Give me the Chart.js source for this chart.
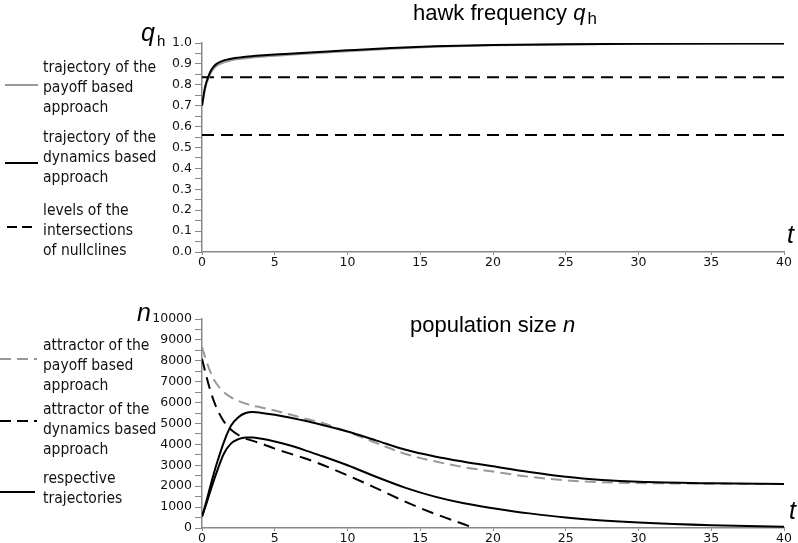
<!DOCTYPE html>
<html>
<head>
<meta charset="utf-8">
<script src="https://cdn.jsdelivr.net/npm/chart.js@4.4.0/dist/chart.umd.min.js"></script>
<style>
  body { margin: 0; background: #fff; width: 798px; height: 543px; overflow: hidden; position: relative; }
  canvas { position: absolute; left: 0; }
  .title { position: absolute; font-family: "Liberation Sans", Arial, sans-serif; font-size: 22px; line-height: 22px; color: #000; white-space: nowrap; }
  .title i, .axlab i { font-style: italic; }
  .title sub { font-style: normal; font-size: 17px; vertical-align: -4px; line-height: 0; margin-left: 2px; }
  .axlab { position: absolute; font-family: "Liberation Sans", Arial, sans-serif; font-size: 25px; line-height: 25px; color: #000; white-space: nowrap; }
  .axlab sub { font-style: normal; font-size: 15px; vertical-align: -5px; line-height: 0; margin-left: 2px; }
  .leg { position: absolute; left: 43px; font-family: "DejaVu Sans", sans-serif; font-size: 15.5px; line-height: 20px; color: #111;
         transform: scaleX(0.9); transform-origin: left top; white-space: nowrap; }
  svg { position: absolute; left: 0; top: 0; }
</style>
</head>
<body>
<canvas id="topChart" width="798" height="276" style="top:0"></canvas>
<canvas id="bottomChart" width="798" height="276" style="top:276px"></canvas>

<div class="title" style="left:413px; top:2px">hawk frequency <i>q</i><sub>h</sub></div>
<div class="title" style="left:410px; top:314px">population size <i>n</i></div>
<div class="axlab" style="left:141px; top:20px"><i>q</i><sub>h</sub></div>
<div class="axlab" style="left:137px; top:300px"><i>n</i></div>
<div class="axlab" style="left:787px; top:222px"><i>t</i></div>
<div class="axlab" style="left:789px; top:498px"><i>t</i></div>

<div class="leg" style="top:57px">trajectory of the<br>payoff based<br>approach</div>
<div class="leg" style="top:127px">trajectory of the<br>dynamics based<br>approach</div>
<div class="leg" style="top:200px">levels of the<br>intersections<br>of nullclines</div>
<div class="leg" style="top:335px">attractor of the<br>payoff based<br>approach</div>
<div class="leg" style="top:399px">attractor of the<br>dynamics based<br>approach</div>
<div class="leg" style="top:468px">respective<br>trajectories</div>

<svg width="60" height="543">
  <line x1="5" y1="85" x2="38" y2="85" stroke="#999" stroke-width="2"/>
  <line x1="5" y1="163" x2="38" y2="163" stroke="#000" stroke-width="2"/>
  <line x1="7" y1="227" x2="34" y2="227" stroke="#000" stroke-width="2" stroke-dasharray="10,5"/>
  <line x1="0" y1="359" x2="37" y2="359" stroke="#999" stroke-width="2" stroke-dasharray="11,6"/>
  <line x1="0" y1="421" x2="37" y2="421" stroke="#000" stroke-width="2" stroke-dasharray="11,6"/>
  <line x1="0" y1="492" x2="35" y2="492" stroke="#000" stroke-width="2"/>
</svg>

<script>
// hawk frequency panel
var timeTop = [0, 0.1, 0.2, 0.3, 0.45, 0.6, 0.8, 1, 1.25, 1.5, 2, 2.5, 3, 4, 5, 6, 8, 10, 13, 16, 20, 25, 30, 40];
var hawkPayoff = [0.700, 0.740, 0.777, 0.804, 0.833, 0.856, 0.877, 0.890, 0.900, 0.908, 0.917, 0.923, 0.927, 0.934, 0.939, 0.944, 0.952, 0.961, 0.973, 0.982, 0.989, 0.993, 0.996, 0.998];
var hawkDynamics = [0.700, 0.745, 0.785, 0.812, 0.842, 0.866, 0.887, 0.900, 0.910, 0.917, 0.925, 0.930, 0.934, 0.940, 0.945, 0.949, 0.957, 0.965, 0.976, 0.984, 0.990, 0.994, 0.996, 0.998];
var nullclineLevels = [0.836, 0.56];

// population size panel
var timeBottom = [0, 0.25, 0.5, 0.75, 1, 1.5, 2, 2.5, 3, 3.5, 4, 5, 6, 7, 8, 10, 12, 14, 16, 18, 20, 22.5, 25, 27.5, 30, 35, 40];
var nPayoffAttractor = [8650, 8100, 7600, 7200, 6900, 6500, 6250, 6080, 5950, 5850, 5780, 5620, 5440, 5250, 5080, 4610, 4060, 3540, 3190, 2910, 2700, 2450, 2280, 2190, 2150, 2120, 2100];
var nUpperTrajectory = [550, 1150, 1800, 2450, 3050, 4100, 4900, 5300, 5500, 5550, 5520, 5420, 5290, 5140, 4980, 4620, 4180, 3740, 3420, 3170, 2950, 2680, 2450, 2300, 2210, 2140, 2110];
var nLowerTrajectory = [550, 1050, 1600, 2150, 2650, 3550, 4050, 4250, 4330, 4330, 4280, 4140, 3960, 3740, 3500, 3000, 2440, 1920, 1500, 1180, 950, 700, 500, 360, 260, 130, 60];
var timeDynAttractor = [0, 0.25, 0.5, 0.75, 1, 1.5, 2, 2.5, 3, 3.5, 4, 5, 6, 7, 8, 10, 12, 14, 16, 18, 18.7];
var nDynamicsAttractor = [8100, 7400, 6750, 6200, 5750, 5100, 4700, 4450, 4280, 4170, 4060, 3800, 3570, 3350, 3100, 2520, 1900, 1250, 680, 180, 0];

function pts(xs, ys) {
    return xs.map(function (x, i) { return { x: x, y: ys[i] }; });
}

// first dataset in the list ends up drawn on top
function line(data, color, dash) {
    return {
        data: data,
        borderColor: color,
        borderWidth: 2,
        borderDash: dash || [],
        pointRadius: 0,
        fill: false,
        cubicInterpolationMode: 'monotone'
    };
}

var axisGray = '#888';
var tickFont = { family: 'DejaVu Sans', size: 12.5 };

function makeChart(id, datasets, yMax, yStep, yLabel) {
    var ctx = document.getElementById(id).getContext('2d');
    return new Chart(ctx, {
        type: 'line',
        data: { datasets: datasets },
        options: {
            responsive: false,
            animation: false,
            devicePixelRatio: 1,
            layout: { padding: { top: 43, right: 14, left: 0, bottom: 0 } },
            plugins: { legend: { display: false }, tooltip: { enabled: false } },
            scales: {
                x: {
                    type: 'linear',
                    min: 0,
                    max: 40,
                    ticks: { stepSize: 5, font: tickFont, color: '#111', padding: 0, maxRotation: 0 },
                    grid: { drawOnChartArea: false, color: axisGray, tickLength: 3 },
                    border: { color: axisGray, width: 1.5 },
                    afterFit: function (scale) { scale.height = 24; }
                },
                y: {
                    min: 0,
                    max: yMax,
                    ticks: { stepSize: yStep, font: tickFont, color: '#111', padding: 3, autoSkip: false, callback: yLabel },
                    grid: { drawOnChartArea: false, color: axisGray, tickLength: 7 },
                    border: { color: axisGray, width: 1.5 },
                    afterFit: function (scale) { scale.width = 202; }
                }
            }
        }
    });
}

makeChart('topChart', [
    line(pts(timeTop, hawkDynamics), '#000'),
    line(pts(timeTop, hawkPayoff), '#999'),
    line(pts([0, 40], [nullclineLevels[0], nullclineLevels[0]]), '#000', [12, 7]),
    line(pts([0, 40], [nullclineLevels[1], nullclineLevels[1]]), '#000', [12, 7])
], 1, 0.05, function (v) {
    return Math.round(v * 100) % 10 === 0 ? v.toFixed(1) : '';
});

makeChart('bottomChart', [
    line(pts(timeBottom, nUpperTrajectory), '#000'),
    line(pts(timeBottom, nLowerTrajectory), '#000'),
    line(pts(timeDynAttractor, nDynamicsAttractor), '#000', [12, 7]),
    line(pts(timeBottom, nPayoffAttractor), '#999', [11, 6])
], 10000, 500, function (v) {
    return v % 1000 === 0 ? String(v) : '';
});
</script>
</body>
</html>
